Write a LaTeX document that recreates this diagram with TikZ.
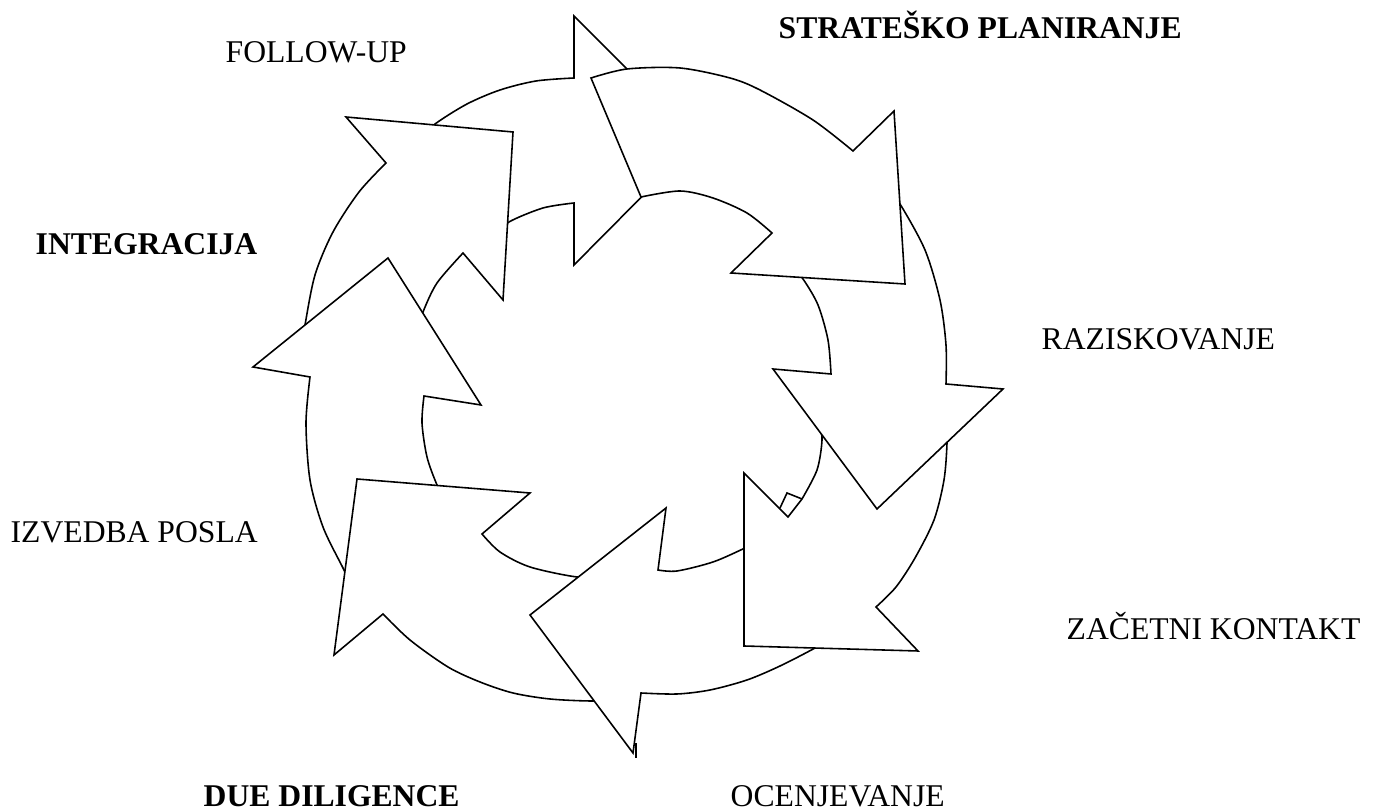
\documentclass[tikz,border=0pt]{standalone}
\usepackage{fontspec}
\setmainfont{Liberation Serif}
\usepackage{tikz}

\begin{document}
\begin{tikzpicture}[x=0.01cm, y=-0.01cm,
  seg/.style={draw=black, fill=white, line width=0.45pt},
  rim/.style={draw=black, line width=0.45pt},
  lbl/.style={anchor=base west, inner sep=0pt, font=\fontsize{9}{11}\selectfont},
  lblb/.style={lbl, font=\fontsize{9}{11}\selectfont\bfseries}]
\useasboundingbox (0,0) rectangle (1381,810);

% arrows, drawn from the bottom of the stack to the top
\draw[seg] plot[smooth] coordinates {(409,146) (435,124) (467,104) (500,90) (536,81) (574,78)}
  -- (574,16) -- (698,140) -- (574,265)
  -- plot[smooth] coordinates {(574,203) (543,208) (509,222) (498,235)} -- cycle;
\draw[seg] plot[smooth] coordinates {(302,345) (305,325) (315,275) (333,232) (359,192) (386,163)}
  -- (346,117) -- (513,132) -- (503,300)
  -- plot[smooth] coordinates {(463,253) (437,283) (423,312) (418,330)} -- cycle;
\draw[seg] plot[smooth] coordinates {(355,592) (343,568) (323,527) (310,480) (306,423) (310,377)}
  -- (253,367) -- (388,258) -- (481,405)
  -- plot[smooth] coordinates {(424,396) (422,423) (427,457) (437,485) (447,505)} -- cycle;
\draw[seg] plot[smooth] coordinates {(615,699) (592,701) (550,699) (513,693) (480,682) (448,667) (410,640) (383,614)}
  -- (334,655) -- (357,479) -- (530,493)
  -- plot[smooth] coordinates {(482,534) (500,552) (530,567) (577,577) (600,575)} -- cycle;
\draw[seg] plot[smooth] coordinates {(842,632) (815,648) (780,666) (747,680) (710,690) (677,694) (641,693)}
  -- (633,753) -- (530,615) -- (666,508)
  -- plot[smooth] coordinates {(658,570) (677,571) (713,562) (745,548) (765,538)} -- cycle;
\draw[rim] (636,743) -- (636,758);
\draw[seg] plot[smooth] coordinates {(946,420) (947,443) (944,480) (934,520) (915,558) (896,587) (876,607)}
  -- (918,651) -- (744,646) -- (744,473) -- (788,517)
  -- plot[smooth] coordinates {(802,499) (817,470) (822,440) (819,420)} -- cycle;
\draw[rim] (780,508) -- (787,493) -- (802,499);
\draw[seg] plot[smooth] coordinates {(885,185) (900,204) (925,250) (940,300) (946,345) (946,384)}
  -- (1003,389) -- (877,509) -- (773,369)
  -- plot[smooth] coordinates {(831,374) (828,340) (818,305) (803,279) (790,265)} -- cycle;
\draw[seg] plot[smooth] coordinates {(591,78) (627,69) (680,68) (730,78) (760,90) (813,120) (853,151)}
  -- (894,111) -- (905,284) -- (731,273)
  -- plot[smooth] coordinates {(772,233) (747,213) (713,198) (680,191) (641,197)} -- cycle;

\node[lbl] (followup) at (225,63) {FOLLOW-UP};
\node[lblb] (planiranje) at (778,39) {STRATEŠKO PLANIRANJE};
\node[lblb] (integracija) at (35,255) {INTEGRACIJA};
\node[lbl] (raziskovanje) at (1041,350) {RAZISKOVANJE};
\node[lbl] (izvedba) at (10,543) {IZVEDBA POSLA};
\node[lbl] (kontakt) at (1066,640) {ZAČETNI KONTAKT};
\node[lblb] (diligence) at (203,807) {DUE DILIGENCE};
\node[lbl] (ocenjevanje) at (730,807) {OCENJEVANJE};
\end{tikzpicture}
\end{document}
